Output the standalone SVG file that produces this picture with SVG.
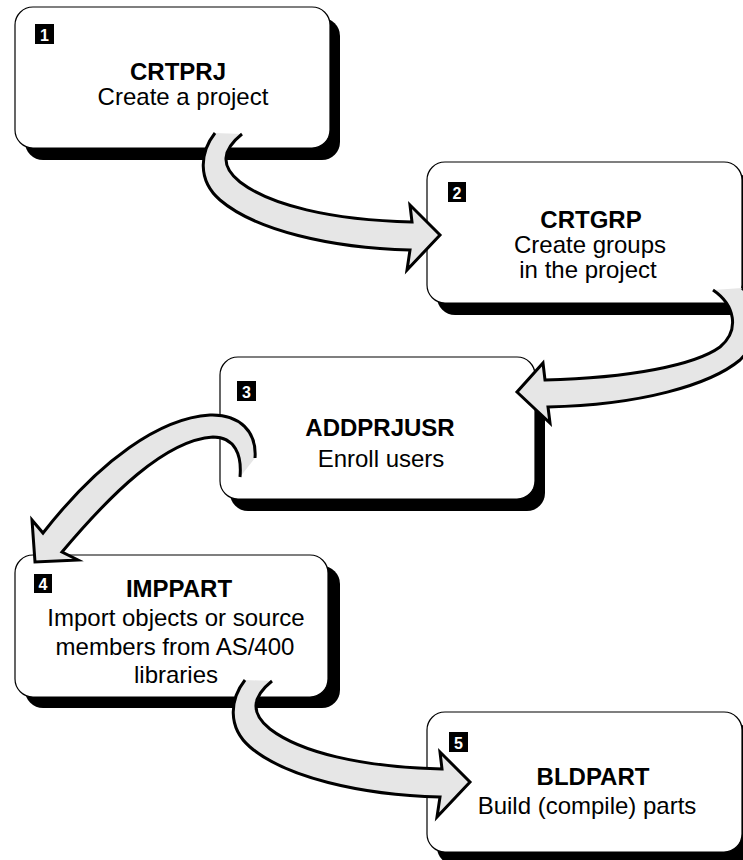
<svg xmlns="http://www.w3.org/2000/svg" width="743" height="860" viewBox="0 0 743 860">
<style>
.shadow{fill:#000}
.box{fill:#fff;stroke:#000;stroke-width:1.2}
.num{fill:#000}
.numt{fill:#fff;font-family:"Liberation Sans",Arial,sans-serif;font-weight:bold;font-size:16px;text-anchor:middle}
.title{font-family:"Liberation Sans",Arial,sans-serif;font-weight:bold;font-size:24px;text-anchor:middle;fill:#000}
.desc{font-family:"Liberation Sans",Arial,sans-serif;font-size:24px;text-anchor:middle;fill:#000}
.arrow{fill:#e6e6e6;stroke:#000;stroke-width:3;stroke-linejoin:miter;stroke-miterlimit:10}
</style>
<g id="node1">
<rect class="shadow" x="25" y="18" width="315" height="142" rx="18"/>
<rect class="box" x="15" y="7" width="315" height="141" rx="18"/>
<rect class="num" x="35" y="24" width="19" height="20"/>
<text class="numt" x="44.5" y="40.5">1</text>
<text class="title" x="178" y="80">CRTPRJ</text>
<text class="desc" x="183" y="105">Create a project</text>
</g>
<g id="node2">
<rect class="shadow" x="437" y="173" width="315" height="142" rx="18"/>
<rect class="box" x="427" y="162" width="315" height="141" rx="18"/>
<rect class="num" x="448" y="182" width="18" height="20"/>
<text class="numt" x="457" y="198.5">2</text>
<text class="title" x="591" y="228">CRTGRP</text>
<text class="desc" x="590" y="253">Create groups</text>
<text class="desc" x="588" y="278">in the project</text>
</g>
<g id="node3">
<rect class="shadow" x="230" y="368" width="315" height="143" rx="18"/>
<rect class="box" x="220" y="357" width="315" height="142" rx="18"/>
<rect class="num" x="237" y="381" width="19" height="20"/>
<text class="numt" x="246.5" y="397.5">3</text>
<text class="title" x="380" y="436">ADDPRJUSR</text>
<text class="desc" x="381" y="467">Enroll users</text>
</g>
<g id="node4">
<rect class="shadow" x="25" y="566" width="315" height="142" rx="18"/>
<rect class="box" x="15" y="555" width="313" height="142" rx="18"/>
<rect class="num" x="34" y="574" width="18" height="19"/>
<text class="numt" x="43" y="589.5">4</text>
<text class="title" x="179" y="597">IMPPART</text>
<text class="desc" x="176" y="626">Import objects or source</text>
<text class="desc" x="175" y="655">members from AS/400</text>
<text class="desc" x="176" y="683">libraries</text>
</g>
<g id="node5">
<rect class="shadow" x="437" y="723" width="315" height="142" rx="18"/>
<rect class="box" x="427" y="712" width="315" height="140" rx="18"/>
<rect class="num" x="449" y="732" width="19" height="20"/>
<text class="numt" x="458.5" y="748.5">5</text>
<text class="title" x="593" y="785">BLDPART</text>
<text class="desc" x="587" y="814">Build (compile) parts</text>
</g>
<g id="connectors">
<path id="a1" class="arrow" d="M215,133 C200,152 197,180 220,200 C255,230 330,248 410,250 L407,270 L440,235 L410,205 L412,222 C330,220 270,205 240,182 C220,166 222,150 242,134"/>
<path id="a2" class="arrow" d="M713,290 C735,305 740,330 720,347 C695,365 630,378 545,380 L543,363 L517,392 L550,423 L548,407 C640,405 710,385 740,360 C765,335 762,305 742,288"/>
<path id="a3" class="arrow" d="M255,458 C257,432 240,414 210,415 C160,418 100,460 43,533 L32,520 L35,562 L78,560 L62,552 C110,495 165,440 213,437 C235,437 242,455 240,477"/>
<path id="a4" class="arrow" transform="translate(30,547)" d="M215,133 C200,152 197,180 220,200 C255,230 330,248 410,250 L407,270 L440,235 L410,205 L412,222 C330,220 270,205 240,182 C220,166 222,150 242,134"/>
</g>
</svg>
